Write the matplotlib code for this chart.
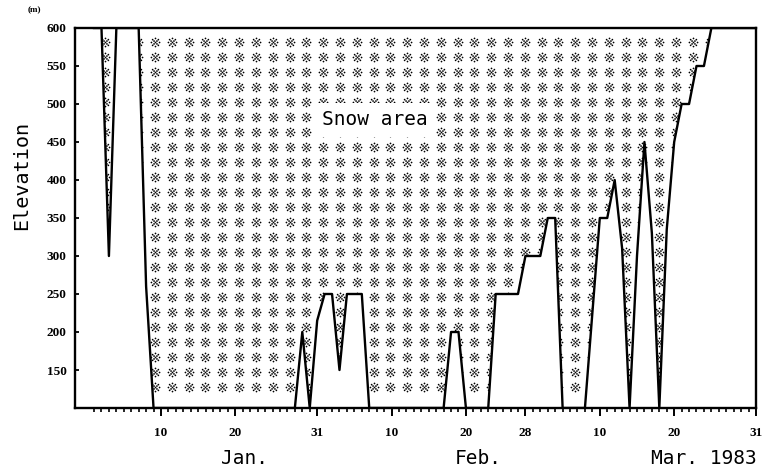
import numpy as np
import matplotlib
matplotlib.use('Agg')
import matplotlib.pyplot as plt
from matplotlib.path import Path
from matplotlib.markers import MarkerStyle

# ---- data: day number counted from Jan 1 (Feb d = 31+d, Mar d = 59+d) ----
days = list(range(1, 91))
elevation = [
    600, 600, 300, 600, 600, 600, 600, 260, 100, 100,   # Jan 1-10
    100, 100, 100, 100, 100, 100, 100, 100, 100, 100,   # Jan 11-20
    100, 100, 100, 100, 100, 100, 100, 100, 200, 100,   # Jan 21-30
    215, 250, 250, 150, 250, 250, 250, 100, 100, 100,   # Jan 31 - Feb 9
    100, 100, 100, 100, 100, 100, 100, 100, 200, 200,   # Feb 10-19
    100, 100, 100, 100, 250, 250, 250, 250, 300, 300,   # Feb 20 - Mar 1
    300, 350, 350, 100, 100, 100, 100, 225, 350, 350,   # Mar 2-11
    400, 310, 100, 300, 450, 330, 100, 335, 450, 500,   # Mar 12-21
    500, 550, 550, 600, 600, 600, 600, 600, 600, 600,   # Mar 22-31
]
major_days = [10, 20, 31, 41, 51, 59, 69, 79, 90]
major_labels = ['10', '20', '31', '10', '20', '28', '10', '20', '31']
y_ticks = [150, 200, 250, 300, 350, 400, 450, 500, 550, 600]
y_labels = ['150', '200', '250', '300', '350', '400', '450', '500', '550', '600']
month_labels = ['Jan.', 'Feb.', 'Mar. 1983']

W, H = 763, 473
fig = plt.figure(figsize=(W / 100, H / 100), dpi=100)
ax = fig.add_axes([75 / W, 65 / H, 681 / W, 380 / H])
ax.set_xlim(-1.56, 90)
ax.set_ylim(100, 600)

# snow area (above the snow line) - region used to clip the dotted texture
fill = ax.fill_between(days, elevation, 600, facecolor='none',
                       edgecolor='none', linewidth=0)
clip_path = fill.get_paths()[0]


def dot_cluster():
    pts = [(0.0, 0.0)]
    for a in range(8):
        ang = np.pi / 4 * a
        pts.append((np.cos(ang), np.sin(ang)))
    for a in (1, 3, 5, 7):
        ang = np.pi / 4 * a
        pts.append((0.5 * np.cos(ang), 0.5 * np.sin(ang)))
    return Path.make_compound_path(*[Path.circle(p, 0.21) for p in pts])


# decorative print texture (style only)
gx = np.arange(0.16, 90, 2.26)
gy = np.arange(128, 595, 19.7)
GX, GY = np.meshgrid(gx, gy)
sc = ax.scatter(GX.ravel(), GY.ravel(), s=50, marker=MarkerStyle(dot_cluster()),
                c='black', linewidths=0, zorder=2)
sc.set_clip_path(clip_path, ax.transData)

ax.plot(days, elevation, color='black', lw=1.7, zorder=4)

ax.text(38.8, 479, 'Snow area', ha='center', va='center', fontsize=14,
        family='DejaVu Sans Mono', zorder=3,
        bbox=dict(boxstyle='square,pad=0.4', facecolor='white', edgecolor='none'))

for s in ax.spines.values():
    s.set_linewidth(1.7)

ax.set_xticks(major_days)
ax.set_xticklabels(major_labels)
ax.set_xticks(days, minor=True)
ax.tick_params(axis='x', which='major', direction='out', length=5.5, width=1.4, pad=8)
ax.tick_params(axis='x', which='minor', direction='out', length=3, width=1.2)
ax.set_yticks(y_ticks)
ax.set_yticklabels(y_labels)
ax.tick_params(axis='y', which='major', direction='in', length=3, width=1.3, pad=6)
for lab in ax.get_xticklabels() + ax.get_yticklabels():
    lab.set_family('Liberation Serif')
    lab.set_weight('bold')
    lab.set_fontsize(9.5)

mono = 'DejaVu Sans Mono'
fig.text(245 / W, 1 - 458 / H, month_labels[0], ha='center', va='center',
         fontsize=14, family=mono)
fig.text(478 / W, 1 - 458 / H, month_labels[1], ha='center', va='center',
         fontsize=14, family=mono)
fig.text(757 / W, 1 - 458 / H, month_labels[2], ha='right', va='center',
         fontsize=14, family=mono)
fig.text(22 / W, 1 - 175 / H, 'Elevation', rotation=90, ha='center', va='center',
         fontsize=14.5, family=mono)
fig.text(34 / W, 1 - 10 / H, '(m)', ha='center', va='center', fontsize=6.5,
         weight='bold', family='Liberation Serif')

fig.savefig('out.png', dpi=100)
